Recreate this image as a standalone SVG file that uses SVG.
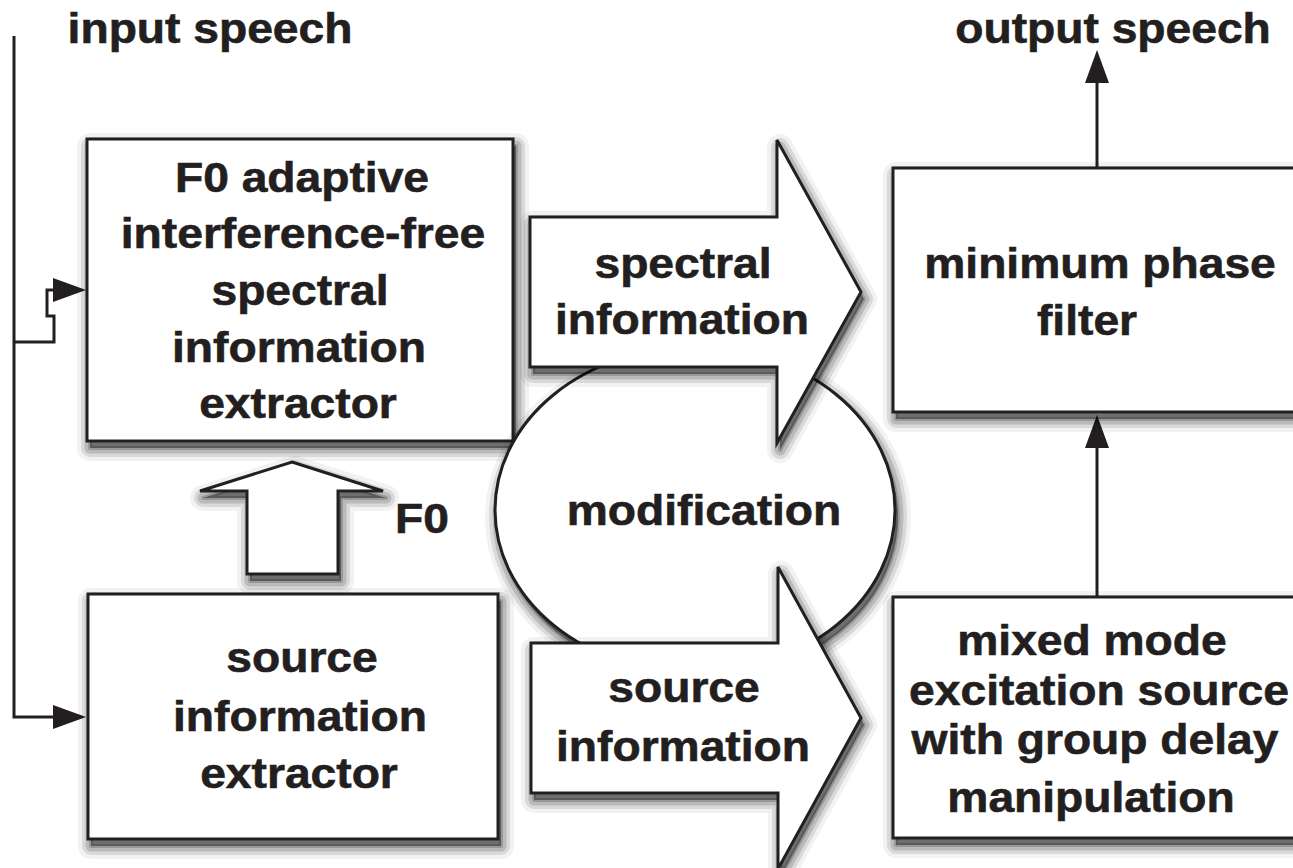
<svg xmlns="http://www.w3.org/2000/svg" xmlns:xlink="http://www.w3.org/1999/xlink" width="1293" height="868" viewBox="0 0 1293 868">
  <style>
    .box { fill: #ffffff; stroke: #231f20; stroke-width: 3; }
    .wire { fill: none; stroke: #231f20; stroke-width: 3; }
    .t { font-family: "Liberation Sans", Arial, Helvetica, sans-serif; font-weight: bold; font-size: 42px; fill: #231f20; stroke: #231f20; stroke-width: 0.6; text-anchor: middle; }
    /* soft shadow built from stacked translucent outlines */
    .sh use { fill: #000; stroke: #000; stroke-linejoin: round; }
    .sh .o { fill-opacity: 0.05; stroke-opacity: 0.05; stroke-width: 26; }
    .sh .a { fill-opacity: 0.1; stroke-opacity: 0.1; stroke-width: 18; }
    .sh .b { fill-opacity: 0.14; stroke-opacity: 0.14; stroke-width: 11; }
    .sh .c { fill-opacity: 0.18; stroke-opacity: 0.18; stroke-width: 4; }
  </style>
  <defs>
    <marker id="head" viewBox="0 0 33 24" refX="3" refY="12" markerWidth="33" markerHeight="24" markerUnits="userSpaceOnUse" orient="auto">
      <path d="M0,0 L33,12 L0,24 Z" fill="#231f20"/>
    </marker>
    <rect id="r-spec" x="87" y="139" width="426" height="302"/>
    <rect id="r-src" x="88" y="594" width="410" height="245"/>
    <polygon id="p-f0" points="292,462 383,491 338,491 338,574 247,574 247,491 200,491"/>
    <ellipse id="e-mod" cx="695" cy="510" rx="200" ry="163"/>
    <polygon id="p-specinfo" points="530,217 777,217 777,140 861,292 777,443 777,367 530,367"/>
    <polygon id="p-srcinfo" points="531,643 778,643 778,567 861,718 778,869 778,793 531,793"/>
    <rect id="r-filter" x="893" y="168" width="420" height="244"/>
    <rect id="r-exc" x="893" y="597" width="420" height="241"/>
  </defs>

  <rect width="1293" height="868" fill="#ffffff"/>

  <!-- free-standing labels -->
  <text class="t" transform="translate(210,43) scale(1.1,1)">input speech</text>
  <text class="t" transform="translate(1113,43) scale(1.1,1)">output speech</text>

  <!-- signal lines -->
  <g id="connectors">
    <path class="wire" d="M14,36 V717 H56" marker-end="url(#head)"/>
    <path class="wire" d="M14,342 H54 V316 H47 V290 H56" marker-end="url(#head)"/>
    <path class="wire" d="M1097,168 V80" marker-end="url(#head)"/>
    <path class="wire" d="M1097,597 V445" marker-end="url(#head)"/>
  </g>

  <g id="spectral-extractor">
    <g class="sh" transform="translate(3,7)"><use class="o" href="#r-spec"/><use class="a" href="#r-spec"/><use class="b" href="#r-spec"/><use class="c" href="#r-spec"/></g>
    <use class="box" href="#r-spec"/>
    <text class="t" transform="translate(302,192) scale(1.1,1)">F0 adaptive</text>
    <text class="t" transform="translate(303,248) scale(1.1,1)">interference-free</text>
    <text class="t" transform="translate(300,305) scale(1.1,1)">spectral</text>
    <text class="t" transform="translate(299,362) scale(1.1,1)">information</text>
    <text class="t" transform="translate(298,418) scale(1.1,1)">extractor</text>
  </g>

  <g id="source-extractor">
    <g class="sh" transform="translate(3,7)"><use class="o" href="#r-src"/><use class="a" href="#r-src"/><use class="b" href="#r-src"/><use class="c" href="#r-src"/></g>
    <use class="box" href="#r-src"/>
    <text class="t" transform="translate(302,672) scale(1.1,1)">source</text>
    <text class="t" transform="translate(300,731) scale(1.1,1)">information</text>
    <text class="t" transform="translate(299,788) scale(1.1,1)">extractor</text>
  </g>

  <g id="f0-arrow">
    <g class="sh" transform="translate(3,7)"><use class="o" href="#p-f0"/><use class="a" href="#p-f0"/><use class="b" href="#p-f0"/><use class="c" href="#p-f0"/></g>
    <use class="box" href="#p-f0"/>
    <text class="t" transform="translate(422,533) scale(1.1,1)">F0</text>
  </g>

  <g id="modification">
    <g class="sh" transform="translate(3,7)"><use class="o" href="#e-mod"/><use class="a" href="#e-mod"/><use class="b" href="#e-mod"/><use class="c" href="#e-mod"/></g>
    <use class="box" href="#e-mod"/>
    <text class="t" transform="translate(704,525) scale(1.1,1)">modification</text>
  </g>

  <g id="spectral-information">
    <g class="sh" transform="translate(3,7)"><use class="o" href="#p-specinfo"/><use class="a" href="#p-specinfo"/><use class="b" href="#p-specinfo"/><use class="c" href="#p-specinfo"/></g>
    <use class="box" href="#p-specinfo"/>
    <text class="t" transform="translate(683,278) scale(1.1,1)">spectral</text>
    <text class="t" transform="translate(682,334) scale(1.1,1)">information</text>
  </g>

  <g id="source-information">
    <g class="sh" transform="translate(3,7)"><use class="o" href="#p-srcinfo"/><use class="a" href="#p-srcinfo"/><use class="b" href="#p-srcinfo"/><use class="c" href="#p-srcinfo"/></g>
    <use class="box" href="#p-srcinfo"/>
    <text class="t" transform="translate(684,702) scale(1.1,1)">source</text>
    <text class="t" transform="translate(683,761) scale(1.1,1)">information</text>
  </g>

  <g id="min-phase-filter">
    <g class="sh" transform="translate(3,7)"><use class="o" href="#r-filter"/><use class="a" href="#r-filter"/><use class="b" href="#r-filter"/><use class="c" href="#r-filter"/></g>
    <use class="box" href="#r-filter"/>
    <text class="t" transform="translate(1100,278) scale(1.1,1)">minimum phase</text>
    <text class="t" transform="translate(1087,335) scale(1.1,1)">filter</text>
  </g>

  <g id="excitation-source">
    <g class="sh" transform="translate(3,7)"><use class="o" href="#r-exc"/><use class="a" href="#r-exc"/><use class="b" href="#r-exc"/><use class="c" href="#r-exc"/></g>
    <use class="box" href="#r-exc"/>
    <text class="t" transform="translate(1092,655) scale(1.1,1)">mixed mode</text>
    <text class="t" transform="translate(1099,705) scale(1.1,1)">excitation source</text>
    <text class="t" transform="translate(1095,754) scale(1.1,1)">with group delay</text>
    <text class="t" transform="translate(1091,812) scale(1.1,1)">manipulation</text>
  </g>
</svg>
